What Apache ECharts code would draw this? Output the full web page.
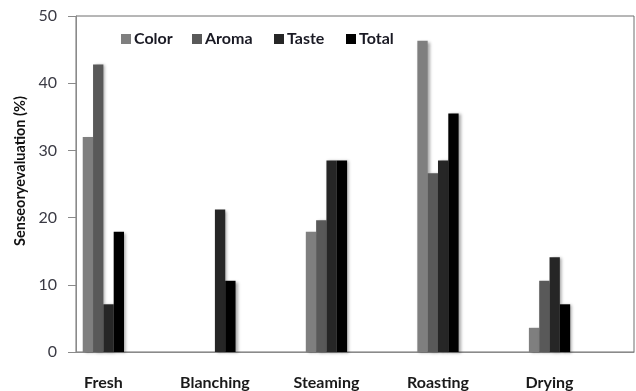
<!DOCTYPE html>
<html>
<head>
<meta charset="utf-8">
<script src="https://cdn.jsdelivr.net/npm/echarts@6/dist/echarts.min.js"></script>
<style>
html,body{margin:0;padding:0;background:#fff;}
#chart{width:636px;height:391px;}
</style>
</head>
<body>
<div id="chart"></div>
<script>
const categories = ['Fresh', 'Blanching', 'Steaming', 'Roasting', 'Drying'];
const seriesNames = ['Color', 'Aroma', 'Taste', 'Total'];
const colorValues = [32.0, 0, 17.9, 46.3, 3.6];
const aromaValues = [42.8, 0, 19.6, 26.6, 10.6];
const tasteValues = [7.1, 21.2, 28.5, 28.5, 14.1];
const totalValues = [17.9, 10.6, 28.5, 35.5, 7.1];
const yTicks = [0, 10, 20, 30, 40, 50];
const yTitle = 'Senseoryevaluation (%)';

const FONT = 'Lato';
const shadow = {shadowColor: 'rgba(0,0,0,0.35)', shadowBlur: 3, shadowOffsetX: 2, shadowOffsetY: 1};

function barSeries(name, data, color) {
  return {
    name: name, type: 'bar', data: data,
    xAxisIndex: 1, yAxisIndex: 1,
    barGap: '0%', barCategoryGap: '63%',
    itemStyle: Object.assign({color: color}, shadow)
  };
}

const legendLefts = [116, 187, 269, 341];
const legends = seriesNames.map((n, i) => ({
  left: legendLefts[i], top: 26,
  itemWidth: 10, itemHeight: 10, icon: 'rect',
  textStyle: {fontFamily: FONT, fontWeight: 'bold', fontSize: 16, color: '#1a1a24', padding: [0, 0, 0, -2]},
  data: [n]
}));

const chart = echarts.init(document.getElementById('chart'), null, {renderer: 'canvas'});
chart.setOption({
  animation: false,
  backgroundColor: '#fff',
  grid: [
    {left: 76, right: 2, top: 16, bottom: 39, show: true, borderColor: '#6e6e6e', borderWidth: 1, backgroundColor: 'transparent'},
    {left: 47.6, right: 30.7, top: 16, bottom: 39}
  ],
  legend: legends,
  xAxis: [
    {type: 'category', gridIndex: 0, data: categories, axisLabel: {show: false}, axisTick: {show: false},
     axisLine: {lineStyle: {color: '#8a8a8a', width: 1}}},
    {type: 'category', gridIndex: 1, data: categories,
     axisLine: {show: false}, axisTick: {show: false},
     axisLabel: {margin: 23, fontFamily: FONT, fontWeight: 'bold', fontSize: 16, color: '#1a1a1a'}}
  ],
  yAxis: [
    {type: 'value', gridIndex: 0, min: yTicks[0], max: yTicks[yTicks.length - 1], interval: 10,
     splitLine: {show: false},
     axisLine: {show: true, lineStyle: {color: '#8a8a8a', width: 1}},
     axisTick: {show: true, length: 8, lineStyle: {color: '#8a8a8a'}},
     axisLabel: {margin: 19, fontFamily: FONT, fontSize: 16, color: '#3a3a44'}},
    {type: 'value', gridIndex: 1, min: yTicks[0], max: yTicks[yTicks.length - 1], interval: 10,
     show: false, splitLine: {show: false}}
  ],
  graphic: [{
    type: 'text', x: 20, y: 171, rotation: Math.PI / 2,
    style: {text: yTitle, fontFamily: FONT, fontWeight: 'bold', fontSize: 14.5, fill: '#111',
            align: 'center', verticalAlign: 'middle'}
  }],
  series: [
    barSeries('Color', colorValues, '#7f7f7f'),
    barSeries('Aroma', aromaValues, '#595959'),
    barSeries('Taste', tasteValues, '#262626'),
    barSeries('Total', totalValues, '#000000')
  ]
});
</script>
</body>
</html>
